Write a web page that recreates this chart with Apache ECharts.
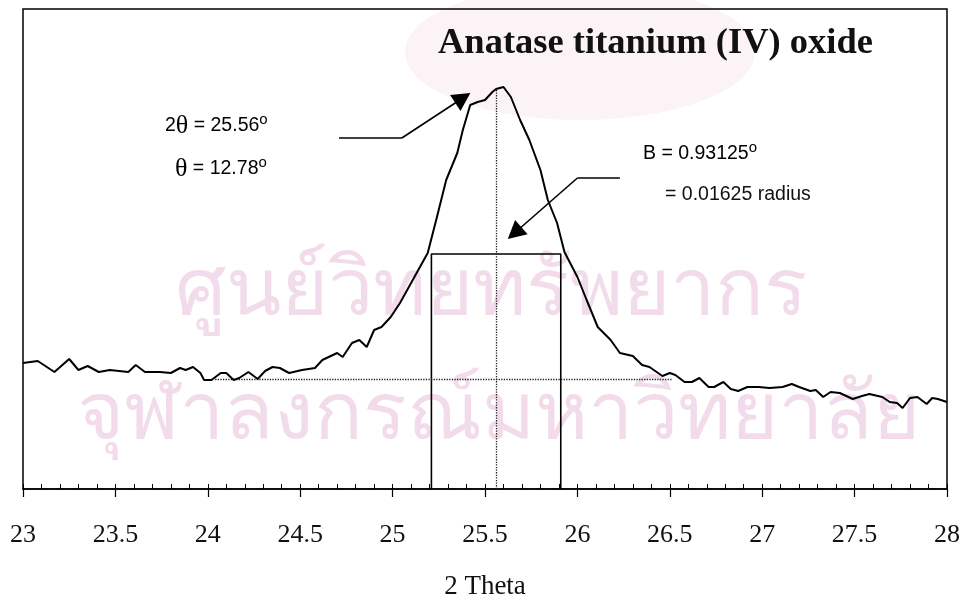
<!DOCTYPE html>
<html>
<head>
<meta charset="utf-8">
<script src="https://cdn.jsdelivr.net/npm/echarts@6/dist/echarts.min.js"></script>
<style>
    html, body { margin: 0; padding: 0; background: #fff; }
    #chart { width: 964px; height: 599px; }
</style>
</head>
<body>
<div id="chart"></div>
<script>
// 2 theta (degrees) and intensity (arbitrary units)
const twoTheta = [
    23.00, 23.08, 23.17, 23.25, 23.30, 23.35, 23.41, 23.47, 23.57, 23.61,
    23.66, 23.74, 23.80, 23.85, 23.88, 23.92, 23.96, 23.98, 24.02, 24.07,
    24.10, 24.14, 24.17, 24.22, 24.27, 24.31, 24.35, 24.39, 24.44, 24.51,
    24.58, 24.62, 24.70, 24.73, 24.78, 24.82, 24.86, 24.90, 24.94, 24.99,
    25.04, 25.13, 25.19, 25.24, 25.29, 25.35, 25.38, 25.42, 25.46, 25.50,
    25.54, 25.56, 25.60, 25.64, 25.69, 25.74, 25.80, 25.84, 25.89, 25.93,
    26.00, 26.05, 26.11, 26.18, 26.23, 26.30, 26.35, 26.39, 26.46, 26.50,
    26.53, 26.58, 26.62, 26.66, 26.71, 26.74, 26.79, 26.83, 26.87, 26.92,
    26.98, 27.04, 27.11, 27.16, 27.20, 27.26, 27.29, 27.33, 27.37, 27.42,
    27.49, 27.54, 27.58, 27.65, 27.69, 27.73, 27.76, 27.80, 27.84, 27.89,
    27.92, 27.95, 28.00
];
const intensity = [
    126, 128, 117, 130, 119, 123, 117, 119, 117, 124,
    117, 117, 116, 121, 119, 122, 116, 109, 109, 116,
    116, 109, 111, 117, 110, 118, 122, 121, 116, 119,
    121, 129, 136, 132, 146, 149, 142, 159, 162, 172,
    186, 216, 236, 272, 309, 336, 359, 384, 387, 389,
    397, 400, 402, 392, 369, 349, 319, 289, 266, 237,
    212, 189, 162, 149, 136, 133, 124, 122, 113, 116,
    114, 107, 107, 111, 102, 102, 107, 100, 98, 102,
    102, 101, 102, 105, 102, 98, 99, 92, 97, 96,
    90, 93, 95, 92, 87, 86, 81, 91, 92, 85,
    91, 90, 87
];

// annotation geometry in data units
const baseLevel = 110;            // background line
const baseRange = [24.04, 26.51];
const peakPos = 25.56;
const peakTop = 401;
const boxLeft = 25.21, boxRight = 25.91, boxTop = 235;
const arrowPeak = [[24.71, 351], [25.05, 351], [25.38, 391]];
const arrowWidth = [[26.23, 311], [26.00, 311], [25.66, 256]];

const titleText = 'Anatase titanium (IV) oxide';
const axisName = '2 Theta';
const stampLines = ['ศูนย์วิทยทรัพยากร', 'จุฬาลงกรณ์มหาวิทยาลัย'];

let chart = echarts.init(document.querySelector('#chart'));

function arrowSeries(pts) {
    return {
        type: 'line',
        data: pts.slice(0, 2),
        symbol: 'none',
        silent: true,
        lineStyle: { color: '#000', width: 1.6 },
        markLine: {
            silent: true,
            symbol: ['none', 'triangle'],
            symbolSize: [19, 18],
            label: { show: false },
            lineStyle: { color: '#000', width: 1.6, type: 'solid' },
            itemStyle: { color: '#000' },
            data: [[{ coord: pts[1] }, { coord: pts[2] }]]
        }
    };
}

const serif = 'Liberation Serif, Times New Roman, serif';
const sans = 'Liberation Sans, Arial, sans-serif';
const richLbl = {
    a: { fontFamily: sans, fontSize: 19.5, color: '#111', lineHeight: 28 },
    th: { fontFamily: serif, fontSize: 26, color: '#111', lineHeight: 28 },
    deg: { fontFamily: sans, fontSize: 15, color: '#111', verticalAlign: 'top', lineHeight: 28 }
};
const stampStyle = { fontFamily: 'DejaVu Sans, Noto Sans, sans-serif', fontSize: 81, fill: 'rgba(226, 178, 212, 0.45)' };

let option = {
    animation: false,
    backgroundColor: '#fff',
    grid: {
        left: 23, right: 17, top: 9, bottom: 110,
        outerBoundsMode: 'none',
        containLabel: false,
        show: true, borderColor: '#000', borderWidth: 1.5
    },
    xAxis: [{
        type: 'value',
        min: 23, max: 28, interval: 0.5,
        position: 'bottom',
        name: axisName,
        nameLocation: 'middle',
        nameGap: 84,
        nameTextStyle: { fontFamily: serif, fontSize: 27, color: '#111' },
        axisLine: { lineStyle: { color: '#000', width: 1.5 } },
        axisTick: { show: true, length: 8, lineStyle: { color: '#000', width: 1.2 } },
        axisLabel: { fontFamily: serif, fontSize: 26, color: '#111', margin: 33 },
        splitLine: { show: false }
    }, {
        type: 'value',
        min: 23, max: 28, interval: 0.1,
        position: 'bottom',
        axisLine: { show: false },
        axisTick: { show: true, inside: true, length: 5, lineStyle: { color: '#000', width: 1 } },
        axisLabel: { show: false },
        splitLine: { show: false }
    }],
    yAxis: {
        type: 'value',
        min: 0, max: 480,
        show: false,
        splitLine: { show: false }
    },
    graphic: [
        {
            type: 'ellipse', silent: true, z: -10,
            shape: { cx: 580, cy: 52, rx: 175, ry: 68 },
            style: { fill: 'rgba(238, 196, 210, 0.2)' }
        },
        {
            type: 'text', silent: true, z: -5, left: 175, top: 253,
            style: Object.assign({ text: stampLines[0] }, stampStyle)
        },
        {
            type: 'text', silent: true, z: -5, left: 77, top: 377,
            style: Object.assign({ text: stampLines[1] }, stampStyle)
        },
        {
            type: 'text', left: 438, top: 25,
            style: { text: titleText, fontFamily: serif, fontWeight: 'bold', fontSize: 36.5, fill: '#111' }
        },
        {
            type: 'text', left: 165, top: 112,
            style: { text: '{a|2}{th|θ}{a| = 25.56}{deg|o}', rich: richLbl }
        },
        {
            type: 'text', left: 175, top: 155,
            style: { text: '{th|θ}{a| = 12.78}{deg|o}', rich: richLbl }
        },
        {
            type: 'text', left: 643, top: 140,
            style: { text: '{a|B = 0.93125}{deg|o}', rich: richLbl }
        },
        {
            type: 'text', left: 665, top: 185,
            style: { text: '= 0.01625 radius', fontFamily: sans, fontSize: 19.5, fill: '#111' }
        }
    ],
    series: [
        {
            type: 'line',
            data: twoTheta.map((t, i) => [t, intensity[i]]),
            symbol: 'none',
            lineStyle: { color: '#000', width: 2 },
            z: 5
        },
        {
            // background level and peak position
            type: 'line',
            data: [],
            markLine: {
                silent: true,
                symbol: 'none',
                label: { show: false },
                lineStyle: { color: '#222', width: 1.3, type: 'dotted' },
                data: [
                    [{ coord: [baseRange[0], baseLevel] }, { coord: [baseRange[1], baseLevel] }],
                    [{ coord: [peakPos, 0] }, { coord: [peakPos, peakTop] }]
                ]
            }
        },
        {
            // FWHM box
            type: 'line',
            data: [[boxLeft, 0], [boxLeft, boxTop], [boxRight, boxTop], [boxRight, 0]],
            symbol: 'none',
            lineStyle: { color: '#000', width: 1.6 }
        },
        arrowSeries(arrowPeak),
        arrowSeries(arrowWidth)
    ]
};
chart.setOption(option);
</script>
</body>
</html>
